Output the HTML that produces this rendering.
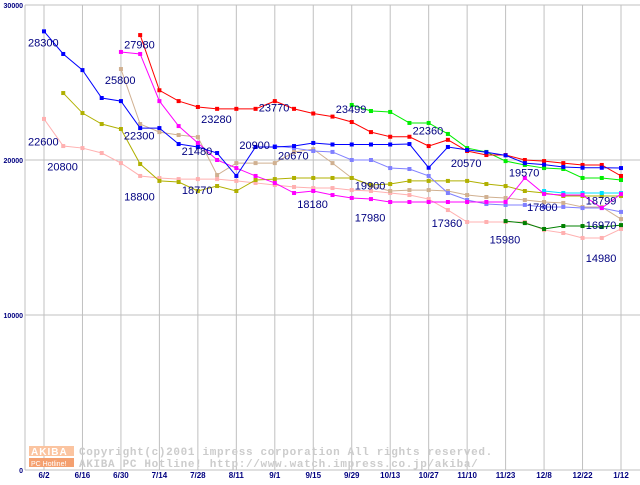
<!DOCTYPE html>
<html><head><meta charset="utf-8"><style>
body{margin:0;background:#fff;}
svg text{font-family:"Liberation Sans",sans-serif;}
</style></head><body>
<svg id="chart" width="640" height="480" viewBox="0 0 640 480" xmlns="http://www.w3.org/2000/svg">
<g id="grid"></g>
<g id="wm">
<rect x="29" y="446" width="45" height="10" fill="#fbc4a0"/>
<text x="31" y="455" font-size="10" font-weight="bold" fill="#fff" letter-spacing="1">AKIBA</text>
<rect x="29" y="458" width="45" height="9" fill="#f4a070"/>
<text x="31" y="466" font-size="7" fill="#fff">PC Hotline!</text>
<text x="79" y="455" fill="#cccccc" style="font-family:'Liberation Mono',monospace;font-size:11px;font-weight:bold;letter-spacing:0.66px">Copyright(c)2001 impress corporation All rights reserved.</text>
<text x="79" y="467" fill="#cccccc" style="font-family:'Liberation Mono',monospace;font-size:11px;font-weight:bold;letter-spacing:0.66px">AKIBA PC Hotline!  http://www.watch.impress.co.jp/akiba/</text>
</g>
<g id="series"></g>
<g id="labels"></g>
</svg>
<script>
const xLabels=["6/2","6/16","6/30","7/14","7/28","8/11","9/1","9/15","9/29","10/13","10/27","11/10","11/23","12/8","12/22","1/12"];
const yTicks=[0,10000,20000,30000];
const sBlue=[28300,26840,25800,24000,23800,22060,22060,21030,20840,20450,18970,20840,20840,20900,21100,21000,21000,21000,21000,21030,19500,20840,20650,20500,20300,19800,19700,19550,19500,19500,19480];
const sRed=[null,null,null,null,null,28060,24500,23800,23420,23300,23300,23300,23800,23300,23000,22800,22450,21800,21500,21500,20900,21300,20580,20320,20320,20000,19930,19800,19680,19680,18970];
const sGreen=[null,null,null,null,null,null,null,null,null,null,null,null,null,null,null,null,23550,23160,23100,22390,22390,21680,20770,20520,19930,19680,19480,19420,18840,18840,18710];
const sMagenta=[null,null,null,null,26970,26840,23800,22190,21100,20000,19480,18970,18520,17870,18000,17740,17550,17480,17290,17290,17290,17290,17290,17290,17290,18840,17810,17740,17740,16900,17810];
const sCyan=[null,null,null,null,null,null,null,null,null,null,null,null,null,null,null,null,null,null,null,null,null,null,null,null,null,null,18000,17870,17870,17870,17870];
const sPeri=[null,null,null,null,null,null,null,null,null,null,null,null,20900,20770,20580,20520,20000,20000,19480,19420,18970,17870,17420,17160,17100,17100,16970,16970,16900,16900,16650];
const sTan=[null,null,null,null,25870,22320,21800,21610,21480,19030,19800,19800,19800,20520,20700,19800,18840,18320,18000,18060,18060,18000,17740,17610,17550,17420,17290,17230,16970,16970,16190];
const sOlive=[null,24320,23030,22320,22000,19740,18650,18580,18000,18320,18000,18710,18770,18840,18840,18840,18840,18390,18450,18650,18650,18650,18650,18450,18320,18000,17870,17680,17680,17680,17680];
const sPink=[22650,20900,20770,20450,19800,18970,18840,18770,18770,18770,18650,18520,18390,18260,18190,18190,18060,18000,17870,17740,17480,16770,16000,16000,16000,16000,15480,15290,14970,14970,15550];
const sDkGreen=[null,null,null,null,null,null,null,null,null,null,null,null,null,null,null,null,null,null,null,null,null,null,null,null,16060,15930,15550,15740,15740,15680,15800];
const seriesList=[["pink-series",sPink,"#ffb0b0"],["tan-series",sTan,"#d0b090"],["olive-series",sOlive,"#b0b000"],["periwinkle-series",sPeri,"#8080ff"],["dark-green-series",sDkGreen,"#008000"],["cyan-series",sCyan,"#00e0ff"],["magenta-series",sMagenta,"#ff00ff"],["green-series",sGreen,"#00ee00"],["red-series",sRed,"#ff0000"],["blue-series",sBlue,"#0000ff"]];
const labelVals=["28300","27980","25800","22600","22300","21480","20800","23280","23770","20900","20670","18800","18770","18180","23499","22360","19900","20570","17980","17360","19570","17800","18799","15980","16970","14980"];
const labelIdx=[0,5,4,0,4,7,1,9,12,10,13,5,8,14,16,20,16,21,16,20,25,26,29,24,29,29];
const labelVal=[28300,27980,25800,22600,22300,21480,20800,23280,23770,20900,20670,18800,18770,18180,23499,22360,19900,20570,17980,17360,19570,17800,18799,15980,16970,14980];
const labelDx=[-16,-16,-16,-16,3,3,-16,-16,-16,3,-16,-16,-16,-16,-16,-16,3,3,3,3,-16,-17,-16,-16,-16,-16];
const labelDy=[15,12,14,26,15,18,23,14,10,3,10,22,15,20,7,11,28,16,30,26,10,17,26,21,22,24];
const NS="http://www.w3.org/2000/svg";
const x=i=>44+i*(577/30);
const y=v=>470-v*155/10000;
function mk(t,a,p){const e=document.createElementNS(NS,t);for(const k in a)e.setAttribute(k,a[k]);p.appendChild(e);return e;}
const g=document.getElementById('grid');
xLabels.forEach((l,i)=>{const xx=x(i*2);
const ln=mk('line',{x1:xx,x2:xx,y1:5,y2:470,stroke:'#c0c0c0'},g);


const t=mk('text',{x:xx,y:478,'font-size':8,'font-weight':'bold',fill:'#000080','text-anchor':'middle'},g);t.textContent=l;

});
yTicks.forEach(v=>{const yy=y(v);
const ln=mk('line',{x1:25,x2:640,y1:yy,y2:yy,stroke:'#c0c0c0'},g);


const t=mk('text',{x:23,y:yy+3,'font-size':7,'font-weight':'bold',fill:'#000080','text-anchor':'end'},g);t.textContent=v;

});
mk('line',{x1:25,x2:25,y1:5,y2:470,stroke:'#c0c0c0'},g);
const sg=document.getElementById('series');
seriesList.forEach(([n,d,c])=>{const grp=mk('g',{},sg);


let pts=[];d.forEach((v,i)=>{if(v!=null)pts.push(x(i)+','+y(v));});
mk('polyline',{points:pts.join(' '),fill:'none',stroke:c,'stroke-width':1},grp);
d.forEach((v,i)=>{if(v!=null){const r=mk('rect',{x:x(i)-2,y:y(v)-2,width:4,height:4,fill:c},grp);

}});});
const lg=document.getElementById('labels');
labelVals.forEach((s,k)=>{const t=mk('text',{x:x(labelIdx[k])+labelDx[k],y:y(labelVal[k])+labelDy[k],'font-size':11,fill:'#000080'},lg);t.textContent=s;

});
</script>
</body></html>
